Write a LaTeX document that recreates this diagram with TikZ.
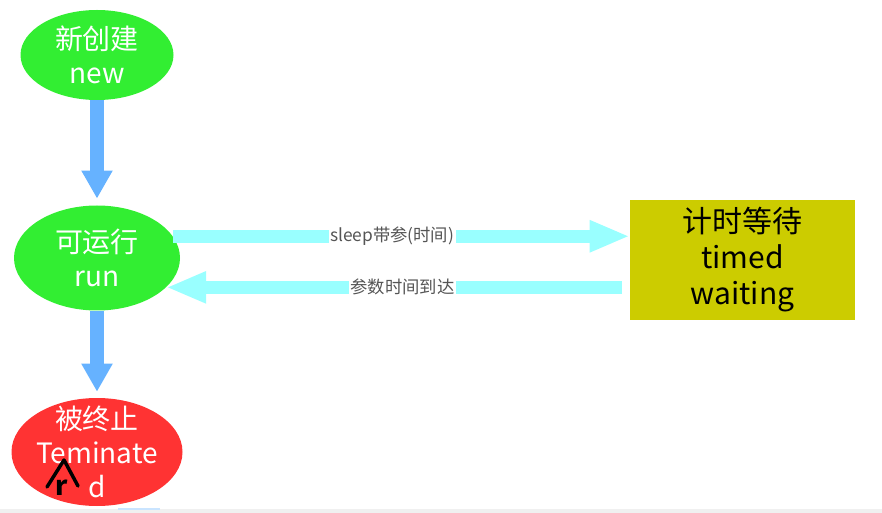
\documentclass[tikz,border=0pt]{standalone}
\usepackage{fontspec}
\newfontfamily\cjk{Noto Sans CJK SC}
\usetikzlibrary{shapes.geometric,arrows.meta}

\definecolor{stategreen}{RGB}{50,238,50}
\definecolor{stopred}{RGB}{255,51,51}
\definecolor{waityellow}{RGB}{204,204,0}
\definecolor{flowblue}{RGB}{102,178,255}
\definecolor{flowcyan}{RGB}{153,255,255}
\definecolor{labelgrey}{RGB}{85,85,85}

\begin{document}
\begin{tikzpicture}[x=0.75pt, y=-0.75pt,
  state/.style={ellipse, fill=stategreen, inner sep=0pt},
  statetext/.style={text=white, align=center, inner sep=0pt,
    font=\cjk\fontsize{21}{25.5}\selectfont},
  waitbox/.style={rectangle, fill=waityellow, inner sep=0pt, align=center,
    minimum width=168.75pt, minimum height=90pt,
    font=\cjk\fontsize{22.5}{27}\selectfont},
  downflow/.style={draw=flowblue, line width=10pt,
    -{Triangle[length=21pt,width=22pt]}},
  sideflow/.style={draw=flowcyan, line width=10pt,
    -{Triangle[length=30pt,width=22pt]}},
  flowlabel/.style={fill=white, text=labelgrey, inner sep=1pt,
    font=\cjk\fontsize{13}{15}\selectfont}]
  \useasboundingbox (0,0) rectangle (882,513);
  % Bottom strip
  \fill[gray!12] (0,509) rectangle (882,513);
  \fill[flowblue!35] (118,508) rectangle (160,510);
  % States
  \node[state, minimum width=114.75pt, minimum height=67.5pt,
    label={[statetext]center:新创建\\new}] (new) at (97,55) {};
  \node[state, minimum width=124.5pt, minimum height=78.75pt,
    label={[statetext]center:可运行\\run}] (run) at (97,258) {};
  \node[state, fill=stopred, minimum width=128.25pt, minimum height=81pt,
    label={[statetext]center:被终止\\Teminate\\d}] (term) at (97,452) {};
  \node[waitbox] (tw) at (742.5,260) {计时等待\\timed\\waiting};
  % Arrows
  \draw[downflow, shorten >=5pt] (new) -- (run);
  \draw[downflow, shorten >=4.5pt] (run) -- (term);
  \draw[sideflow] (run.16) -- (run.16 -| tw.west)
    node[flowlabel, pos=0.48] (sleep) {sleep带参(时间)};
  \draw[sideflow, shorten <=6pt] (run.-23 -| tw.west) -- (run.-23)
    node[flowlabel, pos=0.49] (back) {参数时间到达};
  % Handwritten correction
  \draw[line width=2.6pt, line cap=round, line join=round]
    (47,487) -- (64,460) -- (78,486);
  \node[font=\cjk\bfseries\fontsize{20}{20}\selectfont, inner sep=0pt]
    (fix) at (62,488) {r};
\end{tikzpicture}
\end{document}
